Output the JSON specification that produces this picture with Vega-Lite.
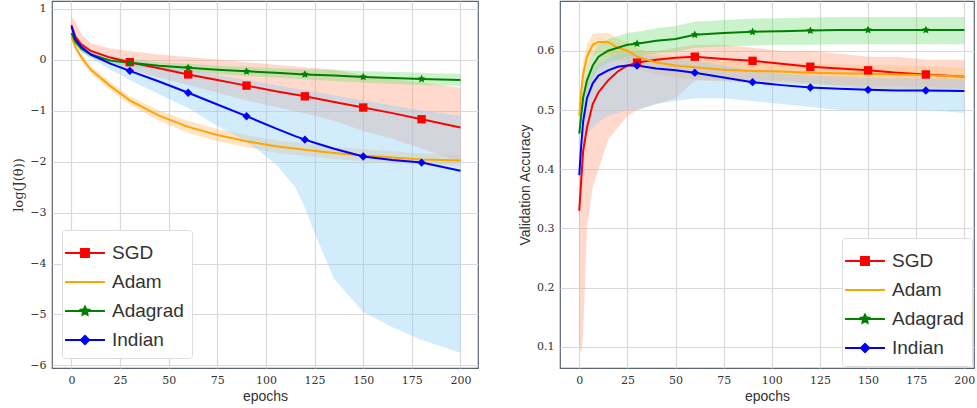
{
  "$schema": "https://vega.github.io/schema/vega-lite/v6.json",
  "padding": {"left": 12, "top": 0, "right": 0, "bottom": 0},
  "spacing": 38,
  "config": {
    "view": {"stroke": "#5a6570", "strokeWidth": 1.2},
    "axis": {"grid": true, "gridColor": "#d9d9d9", "gridWidth": 1.2, "domain": false, "ticks": false, "labelFont": "DejaVu Serif", "labelFontSize": 11, "labelColor": "#333", "titleFont": "Liberation Sans", "titleFontSize": 14, "titleFontWeight": "normal", "titleColor": "#333", "labelPadding": 6},
    "legend": {"labelFont": "Liberation Sans", "labelFontSize": 19, "labelColor": "#333", "fillColor": "white", "strokeColor": "#ddd", "cornerRadius": 3, "padding": 8, "symbolSize": 900, "symbolStrokeWidth": 0, "rowPadding": 4, "labelOffset": 12,
      "symbolType": "M-1.33,-0.07H1.33V0.07H-1.33Z"}
  },
  "datasets": {
    "loss": [
      {"s":"SGD","e":0,"v":0.68,"lo":0.55,"hi":0.85},{"s":"SGD","e":2,"v":0.45,"lo":0.3,"hi":0.75},{"s":"SGD","e":5,"v":0.3,"lo":0.15,"hi":0.5},{"s":"SGD","e":10,"v":0.17,"lo":0.05,"hi":0.32},{"s":"SGD","e":20,"v":0.04,"lo":-0.1,"hi":0.22},{"s":"SGD","e":30,"v":-0.05,"lo":-0.2,"hi":0.17},{"s":"SGD","e":45,"v":-0.17,"lo":-0.35,"hi":0.1},{"s":"SGD","e":60,"v":-0.29,"lo":-0.5,"hi":0.05},{"s":"SGD","e":75,"v":-0.4,"lo":-0.65,"hi":0.0},{"s":"SGD","e":90,"v":-0.51,"lo":-0.8,"hi":-0.05},{"s":"SGD","e":105,"v":-0.62,"lo":-0.93,"hi":-0.1},{"s":"SGD","e":120,"v":-0.72,"lo":-1.05,"hi":-0.15},{"s":"SGD","e":135,"v":-0.83,"lo":-1.2,"hi":-0.2},{"s":"SGD","e":150,"v":-0.94,"lo":-1.4,"hi":-0.3},{"s":"SGD","e":165,"v":-1.05,"lo":-1.55,"hi":-0.38},{"s":"SGD","e":180,"v":-1.17,"lo":-1.75,"hi":-0.45},{"s":"SGD","e":200,"v":-1.33,"lo":-2.0,"hi":-0.55},
      {"s":"Adam","e":0,"v":0.45,"lo":0.38,"hi":0.52},{"s":"Adam","e":2,"v":0.25,"lo":0.18,"hi":0.32},{"s":"Adam","e":5,"v":0.05,"lo":-0.02,"hi":0.12},{"s":"Adam","e":10,"v":-0.2,"lo":-0.27,"hi":-0.13},{"s":"Adam","e":20,"v":-0.52,"lo":-0.6,"hi":-0.44},{"s":"Adam","e":30,"v":-0.8,"lo":-0.88,"hi":-0.72},{"s":"Adam","e":45,"v":-1.1,"lo":-1.2,"hi":-1.0},{"s":"Adam","e":60,"v":-1.32,"lo":-1.44,"hi":-1.2},{"s":"Adam","e":75,"v":-1.48,"lo":-1.6,"hi":-1.36},{"s":"Adam","e":90,"v":-1.6,"lo":-1.72,"hi":-1.48},{"s":"Adam","e":105,"v":-1.7,"lo":-1.82,"hi":-1.58},{"s":"Adam","e":120,"v":-1.77,"lo":-1.89,"hi":-1.65},{"s":"Adam","e":135,"v":-1.83,"lo":-1.95,"hi":-1.71},{"s":"Adam","e":150,"v":-1.88,"lo":-2.0,"hi":-1.76},{"s":"Adam","e":165,"v":-1.92,"lo":-2.04,"hi":-1.8},{"s":"Adam","e":180,"v":-1.96,"lo":-2.06,"hi":-1.84},{"s":"Adam","e":200,"v":-1.98,"lo":-2.08,"hi":-1.88},
      {"s":"Adagrad","e":0,"v":0.52,"lo":0.46,"hi":0.58},{"s":"Adagrad","e":2,"v":0.35,"lo":0.29,"hi":0.41},{"s":"Adagrad","e":5,"v":0.22,"lo":0.16,"hi":0.28},{"s":"Adagrad","e":10,"v":0.1,"lo":0.04,"hi":0.16},{"s":"Adagrad","e":20,"v":-0.02,"lo":-0.08,"hi":0.04},{"s":"Adagrad","e":30,"v":-0.06,"lo":-0.13,"hi":0.01},{"s":"Adagrad","e":45,"v":-0.12,"lo":-0.19,"hi":-0.05},{"s":"Adagrad","e":60,"v":-0.16,"lo":-0.24,"hi":-0.08},{"s":"Adagrad","e":75,"v":-0.2,"lo":-0.28,"hi":-0.12},{"s":"Adagrad","e":90,"v":-0.23,"lo":-0.32,"hi":-0.14},{"s":"Adagrad","e":105,"v":-0.26,"lo":-0.35,"hi":-0.17},{"s":"Adagrad","e":120,"v":-0.29,"lo":-0.39,"hi":-0.19},{"s":"Adagrad","e":135,"v":-0.31,"lo":-0.42,"hi":-0.2},{"s":"Adagrad","e":150,"v":-0.34,"lo":-0.45,"hi":-0.23},{"s":"Adagrad","e":165,"v":-0.36,"lo":-0.48,"hi":-0.24},{"s":"Adagrad","e":180,"v":-0.38,"lo":-0.5,"hi":-0.26},{"s":"Adagrad","e":200,"v":-0.4,"lo":-0.52,"hi":-0.28},
      {"s":"Indian","e":0,"v":0.65,"lo":0.6,"hi":0.7},{"s":"Indian","e":2,"v":0.4,"lo":0.3,"hi":0.5},{"s":"Indian","e":5,"v":0.25,"lo":0.15,"hi":0.33},{"s":"Indian","e":10,"v":0.1,"lo":0.03,"hi":0.18},{"s":"Indian","e":20,"v":-0.08,"lo":-0.2,"hi":0.08},{"s":"Indian","e":30,"v":-0.22,"lo":-0.4,"hi":0.0},{"s":"Indian","e":45,"v":-0.43,"lo":-0.68,"hi":-0.1},{"s":"Indian","e":60,"v":-0.65,"lo":-0.95,"hi":-0.2},{"s":"Indian","e":75,"v":-0.88,"lo":-1.3,"hi":-0.3},{"s":"Indian","e":90,"v":-1.11,"lo":-1.6,"hi":-0.4},{"s":"Indian","e":105,"v":-1.35,"lo":-2.05,"hi":-0.5},{"s":"Indian","e":115,"v":-1.5,"lo":-2.5,"hi":-0.57},{"s":"Indian","e":120,"v":-1.57,"lo":-2.9,"hi":-0.6},{"s":"Indian","e":125,"v":-1.63,"lo":-3.4,"hi":-0.63},{"s":"Indian","e":135,"v":-1.75,"lo":-4.3,"hi":-0.7},{"s":"Indian","e":150,"v":-1.9,"lo":-4.95,"hi":-0.8},{"s":"Indian","e":165,"v":-1.97,"lo":-5.25,"hi":-0.9},{"s":"Indian","e":180,"v":-2.02,"lo":-5.5,"hi":-1.0},{"s":"Indian","e":200,"v":-2.18,"lo":-5.75,"hi":-1.1}
    ],
    "acc": [
      {"s":"SGD","e":0,"v":0.33,"lo":0.1,"hi":0.4},{"s":"SGD","e":1,"v":0.38,"lo":0.09,"hi":0.45},{"s":"SGD","e":2,"v":0.43,"lo":0.12,"hi":0.5},{"s":"SGD","e":4,"v":0.47,"lo":0.3,"hi":0.55},{"s":"SGD","e":7,"v":0.51,"lo":0.37,"hi":0.58},{"s":"SGD","e":10,"v":0.53,"lo":0.4,"hi":0.59},{"s":"SGD","e":15,"v":0.55,"lo":0.45,"hi":0.6},{"s":"SGD","e":20,"v":0.565,"lo":0.47,"hi":0.6},{"s":"SGD","e":25,"v":0.575,"lo":0.49,"hi":0.6},{"s":"SGD","e":30,"v":0.58,"lo":0.5,"hi":0.6},{"s":"SGD","e":40,"v":0.585,"lo":0.51,"hi":0.6},{"s":"SGD","e":50,"v":0.588,"lo":0.52,"hi":0.605},{"s":"SGD","e":60,"v":0.59,"lo":0.55,"hi":0.61},{"s":"SGD","e":75,"v":0.586,"lo":0.55,"hi":0.61},{"s":"SGD","e":90,"v":0.583,"lo":0.55,"hi":0.605},{"s":"SGD","e":105,"v":0.578,"lo":0.55,"hi":0.6},{"s":"SGD","e":120,"v":0.573,"lo":0.545,"hi":0.6},{"s":"SGD","e":135,"v":0.57,"lo":0.54,"hi":0.595},{"s":"SGD","e":150,"v":0.567,"lo":0.535,"hi":0.59},{"s":"SGD","e":165,"v":0.563,"lo":0.535,"hi":0.59},{"s":"SGD","e":180,"v":0.56,"lo":0.53,"hi":0.585},{"s":"SGD","e":200,"v":0.556,"lo":0.53,"hi":0.585},
      {"s":"Adam","e":0,"v":0.49,"lo":0.47,"hi":0.51},{"s":"Adam","e":1,"v":0.53,"lo":0.5,"hi":0.55},{"s":"Adam","e":2,"v":0.56,"lo":0.53,"hi":0.58},{"s":"Adam","e":4,"v":0.59,"lo":0.57,"hi":0.61},{"s":"Adam","e":7,"v":0.61,"lo":0.59,"hi":0.628},{"s":"Adam","e":10,"v":0.615,"lo":0.595,"hi":0.63},{"s":"Adam","e":15,"v":0.615,"lo":0.595,"hi":0.63},{"s":"Adam","e":20,"v":0.605,"lo":0.585,"hi":0.62},{"s":"Adam","e":25,"v":0.6,"lo":0.58,"hi":0.615},{"s":"Adam","e":30,"v":0.59,"lo":0.57,"hi":0.605},{"s":"Adam","e":40,"v":0.58,"lo":0.56,"hi":0.595},{"s":"Adam","e":50,"v":0.575,"lo":0.555,"hi":0.59},{"s":"Adam","e":60,"v":0.572,"lo":0.552,"hi":0.587},{"s":"Adam","e":75,"v":0.568,"lo":0.548,"hi":0.583},{"s":"Adam","e":90,"v":0.566,"lo":0.546,"hi":0.581},{"s":"Adam","e":105,"v":0.565,"lo":0.545,"hi":0.58},{"s":"Adam","e":120,"v":0.563,"lo":0.543,"hi":0.578},{"s":"Adam","e":135,"v":0.562,"lo":0.542,"hi":0.577},{"s":"Adam","e":150,"v":0.561,"lo":0.541,"hi":0.576},{"s":"Adam","e":165,"v":0.56,"lo":0.54,"hi":0.575},{"s":"Adam","e":180,"v":0.559,"lo":0.539,"hi":0.574},{"s":"Adam","e":200,"v":0.556,"lo":0.536,"hi":0.571},
      {"s":"Adagrad","e":0,"v":0.46,"lo":0.44,"hi":0.48},{"s":"Adagrad","e":1,"v":0.49,"lo":0.47,"hi":0.51},{"s":"Adagrad","e":2,"v":0.52,"lo":0.5,"hi":0.54},{"s":"Adagrad","e":4,"v":0.55,"lo":0.53,"hi":0.57},{"s":"Adagrad","e":7,"v":0.575,"lo":0.555,"hi":0.595},{"s":"Adagrad","e":10,"v":0.59,"lo":0.57,"hi":0.61},{"s":"Adagrad","e":15,"v":0.6,"lo":0.58,"hi":0.62},{"s":"Adagrad","e":20,"v":0.605,"lo":0.585,"hi":0.625},{"s":"Adagrad","e":25,"v":0.61,"lo":0.59,"hi":0.63},{"s":"Adagrad","e":30,"v":0.612,"lo":0.592,"hi":0.632},{"s":"Adagrad","e":40,"v":0.617,"lo":0.596,"hi":0.638},{"s":"Adagrad","e":50,"v":0.62,"lo":0.598,"hi":0.642},{"s":"Adagrad","e":60,"v":0.627,"lo":0.605,"hi":0.649},{"s":"Adagrad","e":75,"v":0.63,"lo":0.607,"hi":0.652},{"s":"Adagrad","e":90,"v":0.632,"lo":0.609,"hi":0.654},{"s":"Adagrad","e":105,"v":0.633,"lo":0.61,"hi":0.655},{"s":"Adagrad","e":120,"v":0.634,"lo":0.61,"hi":0.656},{"s":"Adagrad","e":135,"v":0.635,"lo":0.611,"hi":0.657},{"s":"Adagrad","e":150,"v":0.635,"lo":0.611,"hi":0.657},{"s":"Adagrad","e":165,"v":0.635,"lo":0.611,"hi":0.657},{"s":"Adagrad","e":180,"v":0.635,"lo":0.611,"hi":0.657},{"s":"Adagrad","e":200,"v":0.635,"lo":0.611,"hi":0.657},
      {"s":"Indian","e":0,"v":0.39,"lo":0.35,"hi":0.41},{"s":"Indian","e":1,"v":0.44,"lo":0.4,"hi":0.46},{"s":"Indian","e":2,"v":0.48,"lo":0.44,"hi":0.5},{"s":"Indian","e":4,"v":0.52,"lo":0.46,"hi":0.54},{"s":"Indian","e":7,"v":0.545,"lo":0.47,"hi":0.565},{"s":"Indian","e":10,"v":0.558,"lo":0.48,"hi":0.578},{"s":"Indian","e":15,"v":0.567,"lo":0.49,"hi":0.587},{"s":"Indian","e":20,"v":0.573,"lo":0.495,"hi":0.593},{"s":"Indian","e":25,"v":0.575,"lo":0.5,"hi":0.595},{"s":"Indian","e":30,"v":0.575,"lo":0.5,"hi":0.595},{"s":"Indian","e":40,"v":0.57,"lo":0.51,"hi":0.59},{"s":"Indian","e":50,"v":0.567,"lo":0.515,"hi":0.587},{"s":"Indian","e":60,"v":0.563,"lo":0.52,"hi":0.583},{"s":"Indian","e":75,"v":0.555,"lo":0.52,"hi":0.575},{"s":"Indian","e":90,"v":0.547,"lo":0.515,"hi":0.567},{"s":"Indian","e":105,"v":0.542,"lo":0.51,"hi":0.562},{"s":"Indian","e":120,"v":0.538,"lo":0.505,"hi":0.558},{"s":"Indian","e":135,"v":0.536,"lo":0.5,"hi":0.556},{"s":"Indian","e":150,"v":0.534,"lo":0.5,"hi":0.554},{"s":"Indian","e":165,"v":0.533,"lo":0.5,"hi":0.553},{"s":"Indian","e":180,"v":0.533,"lo":0.5,"hi":0.553},{"s":"Indian","e":200,"v":0.532,"lo":0.495,"hi":0.552}
    ]
  },
  "hconcat": [
    {
      "width": 426, "height": 367,
      "data": {"name": "loss"},
      "encoding": {
        "x": {"field": "e", "type": "quantitative", "title": "epochs", "scale": {"domain": [-10, 209], "nice": false}, "axis": {"values": [0, 25, 50, 75, 100, 125, 150, 175, 200]}},
        "y": {"field": "v", "type": "quantitative", "title": "log(J(θ))", "scale": {"domain": [-6.05, 1.15], "nice": false}, "axis": {"values": [-6, -5, -4, -3, -2, -1, 0, 1], "labelExpr": "replace(datum.label, '-', '−')", "titleFont": "DejaVu Serif", "titleFontSize": 13}}
      },
      "layer": [
        {"mark": {"type": "area", "opacity": 0.4}, "encoding": {"y": {"field": "lo", "type": "quantitative"}, "y2": {"field": "hi"}, "color": {"field": "s", "type": "nominal", "scale": {"domain": ["SGD", "Adam", "Adagrad", "Indian"], "range": ["#ff9f80", "#ffbb70", "#7ee07e", "#8fd0f5"]}, "legend": null}}},
        {
          "layer": [
            {"mark": {"type": "line", "strokeWidth": 2}, "encoding": {"color": {"field": "s", "type": "nominal", "title": null, "scale": {"domain": ["SGD", "Adam", "Adagrad", "Indian"], "range": ["#ff0000", "#ffa500", "#008000", "#0000ff"]},
              "legend": {"orient": "bottom-left", "offset": 10, "encode": {"symbols": {"update": {"shape": {"signal": "datum.label == 'SGD' ? 'M-1.33,-0.07H1.33V0.07H-1.33Z M-0.33,-0.33H0.33V0.33H-0.33Z' : datum.label == 'Adagrad' ? 'M-1.33,-0.07H1.33V0.07H-1.33Z M0,-0.44L0.13,-0.17L0.41,-0.13L0.21,0.07L0.25,0.36L0,0.23L-0.25,0.36L-0.21,0.07L-0.41,-0.13L-0.13,-0.17Z' : datum.label == 'Indian' ? 'M-1.33,-0.07H1.33V0.07H-1.33Z M0,-0.37L0.37,0L0,0.37L-0.37,0Z' : 'M-1.33,-0.07H1.33V0.07H-1.33Z'"}, "fill": {"signal": "datum.label == 'SGD' ? '#ff0000' : datum.label == 'Adam' ? '#ffa500' : datum.label == 'Adagrad' ? '#008000' : '#0000ff'"}, "opacity": {"value": 1}}}}}}}},
            {"transform": [{"filter": "datum.e > 0 && datum.e % 30 == 0 && datum.s != 'Adam'"}], "mark": {"type": "point", "filled": true, "opacity": 1, "size": 70}, "encoding": {"color": {"field": "s", "type": "nominal", "title": null}, "shape": {"field": "s", "type": "nominal", "legend": null, "scale": {"domain": ["SGD", "Adam", "Adagrad", "Indian"], "range": ["square", "stroke", "M0,-1L0.29,-0.4L0.95,-0.31L0.47,0.15L0.59,0.81L0,0.5L-0.59,0.81L-0.47,0.15L-0.95,-0.31L-0.29,-0.4Z", "diamond"]}}}}
          ]
        }
      ],
      "resolve": {"scale": {"color": "independent"}, "legend": {"color": "independent"}}
    },
    {
      "width": 414, "height": 367,
      "data": {"name": "acc"},
      "encoding": {
        "x": {"field": "e", "type": "quantitative", "title": "epochs", "scale": {"domain": [-10, 205], "nice": false}, "axis": {"values": [0, 25, 50, 75, 100, 125, 150, 175, 200]}},
        "y": {"field": "v", "type": "quantitative", "title": "Validation Accuracy", "scale": {"domain": [0.0645, 0.684], "nice": false}, "axis": {"values": [0.1, 0.2, 0.3, 0.4, 0.5, 0.6], "format": ".1f"}}
      },
      "layer": [
        {"mark": {"type": "area", "opacity": 0.4}, "encoding": {"y": {"field": "lo", "type": "quantitative"}, "y2": {"field": "hi"}, "color": {"field": "s", "type": "nominal", "scale": {"domain": ["SGD", "Adam", "Adagrad", "Indian"], "range": ["#ff9f80", "#ffbb70", "#7ee07e", "#8fd0f5"]}, "legend": null}}},
        {
          "layer": [
            {"mark": {"type": "line", "strokeWidth": 2}, "encoding": {"color": {"field": "s", "type": "nominal", "title": null, "scale": {"domain": ["SGD", "Adam", "Adagrad", "Indian"], "range": ["#ff0000", "#ffa500", "#008000", "#0000ff"]},
              "legend": {"orient": "bottom-right", "offset": 2, "encode": {"symbols": {"update": {"shape": {"signal": "datum.label == 'SGD' ? 'M-1.33,-0.07H1.33V0.07H-1.33Z M-0.33,-0.33H0.33V0.33H-0.33Z' : datum.label == 'Adagrad' ? 'M-1.33,-0.07H1.33V0.07H-1.33Z M0,-0.44L0.13,-0.17L0.41,-0.13L0.21,0.07L0.25,0.36L0,0.23L-0.25,0.36L-0.21,0.07L-0.41,-0.13L-0.13,-0.17Z' : datum.label == 'Indian' ? 'M-1.33,-0.07H1.33V0.07H-1.33Z M0,-0.37L0.37,0L0,0.37L-0.37,0Z' : 'M-1.33,-0.07H1.33V0.07H-1.33Z'"}, "fill": {"signal": "datum.label == 'SGD' ? '#ff0000' : datum.label == 'Adam' ? '#ffa500' : datum.label == 'Adagrad' ? '#008000' : '#0000ff'"}, "opacity": {"value": 1}}}}}}}},
            {"transform": [{"filter": "datum.e > 0 && datum.e % 30 == 0 && datum.s != 'Adam'"}], "mark": {"type": "point", "filled": true, "opacity": 1, "size": 70}, "encoding": {"color": {"field": "s", "type": "nominal", "title": null}, "shape": {"field": "s", "type": "nominal", "legend": null, "scale": {"domain": ["SGD", "Adam", "Adagrad", "Indian"], "range": ["square", "stroke", "M0,-1L0.29,-0.4L0.95,-0.31L0.47,0.15L0.59,0.81L0,0.5L-0.59,0.81L-0.47,0.15L-0.95,-0.31L-0.29,-0.4Z", "diamond"]}}}}
          ]
        }
      ],
      "resolve": {"scale": {"color": "independent"}, "legend": {"color": "independent"}}
    }
  ],
  "resolve": {"scale": {"color": "independent", "shape": "independent"}, "legend": {"color": "independent", "shape": "independent"}}
}
